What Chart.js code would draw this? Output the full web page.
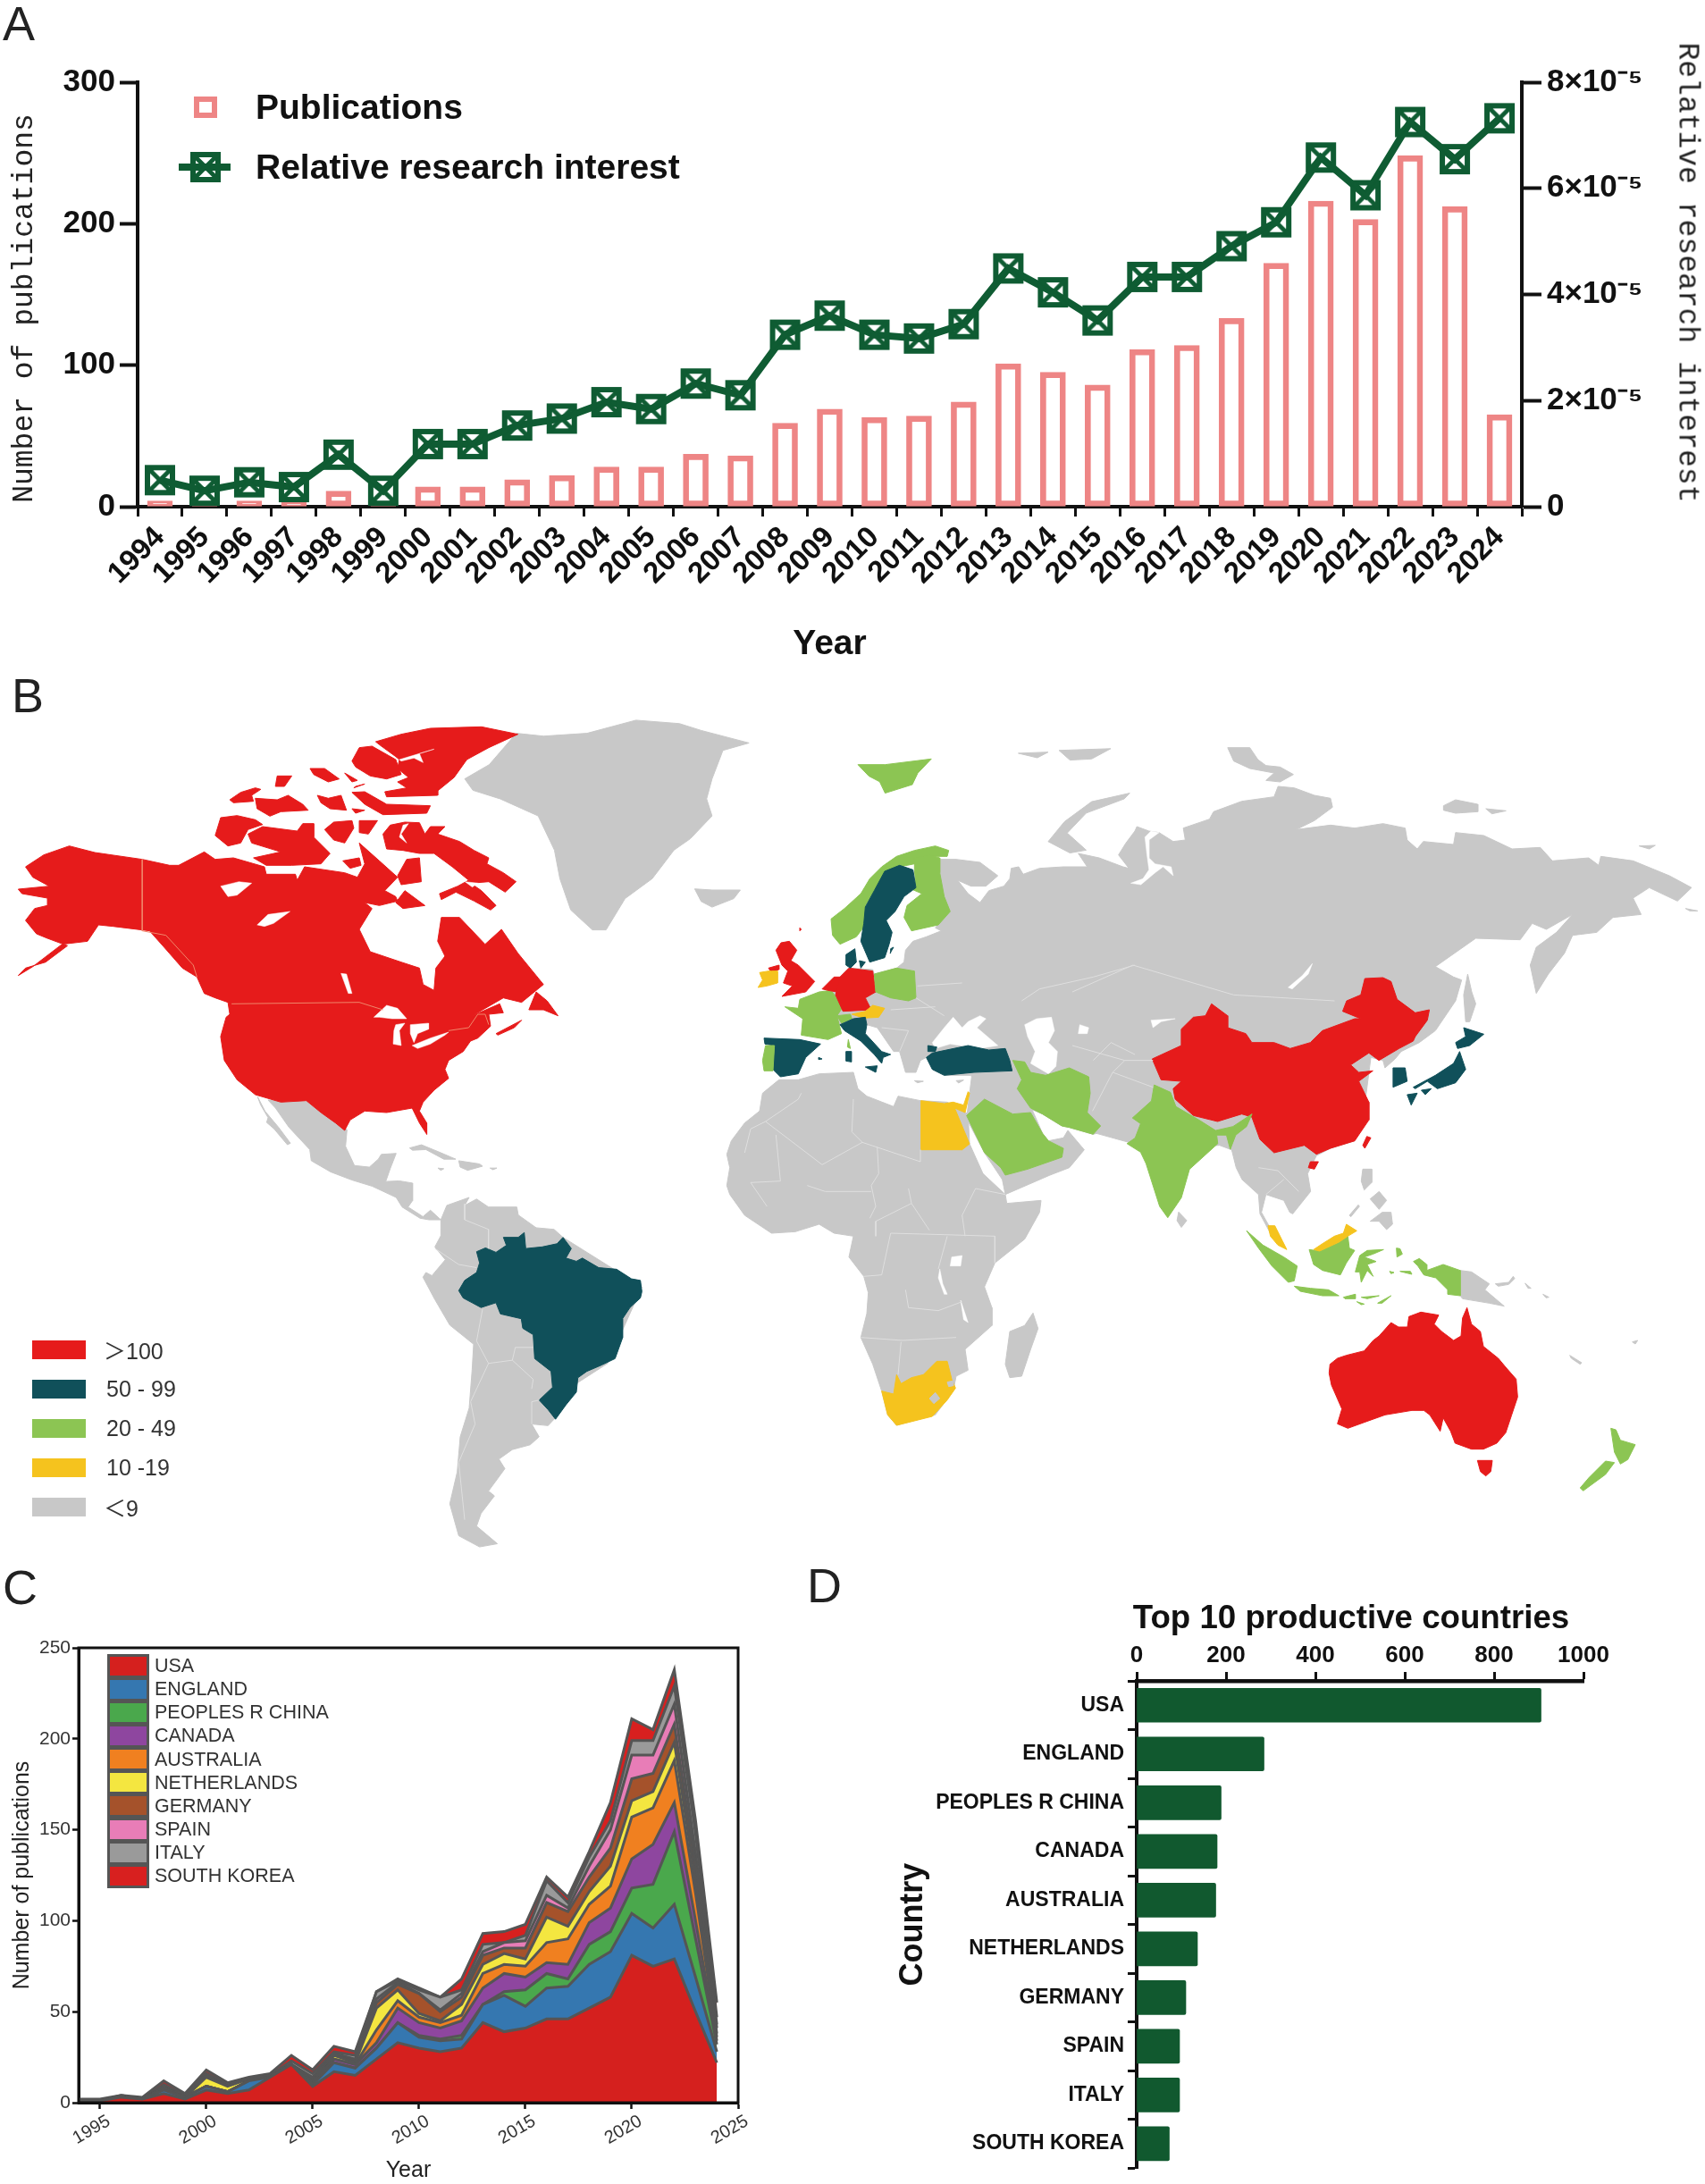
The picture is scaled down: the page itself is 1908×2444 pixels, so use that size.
<!DOCTYPE html>
<html><head><meta charset="utf-8">
<style>
html,body{margin:0;padding:0;background:#fff;width:1908px;height:2444px;overflow:hidden;font-family:"Liberation Sans",Arial,sans-serif}
canvas{position:absolute;display:block}
.t{position:absolute;white-space:pre;line-height:1}
</style>
<script src="https://cdn.jsdelivr.net/npm/chart.js@4"></script>
</head><body>
<canvas id="mapChart" width="1908" height="1000" style="left:0;top:760px"></canvas>
<canvas id="chartA" width="1908" height="745" style="left:0;top:0"></canvas>
<canvas id="chartC" width="860" height="694" style="left:0;top:1750px"></canvas>
<canvas id="chartD" width="1008" height="694" style="left:900px;top:1750px"></canvas>
<script>
// ---------- Panel A ----------
const yearsA=[1994,1995,1996,1997,1998,1999,2000,2001,2002,2003,2004,2005,2006,2007,2008,2009,2010,2011,2012,2013,2014,2015,2016,2017,2018,2019,2020,2021,2022,2023,2024];
const publications=[4,2,4,3,11,2,14,14,19,22,28,28,37,36,59,69,63,64,74,101,95,86,111,114,133,172,216,203,248,212,65];
const relativeInterest=[0.50,0.30,0.46,0.37,0.98,0.30,1.18,1.18,1.53,1.66,1.97,1.84,2.32,2.10,3.24,3.60,3.24,3.17,3.44,4.49,4.04,3.51,4.33,4.33,4.91,5.36,6.58,5.87,7.25,6.55,7.32];
// ---------- Panel C ----------
const yearsC=yearsA;
const stackUSA=[1,1,3,2,5,2,7,5,7,14,21,9,17,15,24,33,30,28,30,44,39,41,46,46,52,58,81,75,79,50,22];
const stackEngland=[0,0,0,0,2,1,2,1,5,0,0,1,5,4,6,11,6,6,5,10,20,12,17,18,24,25,23,21,30,19,6];
const stackChina=[0,0,0,0,0,0,0,0,0,0,0,0,0,0,0,0,1,1,2,0,2,9,8,4,11,11,14,24,40,21,4];
const stackCanada=[0,0,0,0,1,0,0,0,0,0,0,1,2,2,3,8,7,6,8,9,10,7,6,8,12,13,16,22,16,10,2];
const stackAustralia=[0,0,0,0,0,0,0,0,0,0,0,0,0,0,7,4,3,3,3,8,5,6,11,14,10,12,23,20,23,15,2];
const stackNetherlands=[0,0,0,0,0,0,5,3,1,0,0,1,2,1,12,6,2,1,6,5,6,4,14,7,7,11,9,9,10,7,2];
const stackGermany=[0,0,0,0,0,0,0,0,0,0,0,1,1,1,3,3,11,5,4,5,3,6,8,8,8,10,12,10,10,8,3];
const stackSpain=[0,0,0,0,1,0,1,0,0,0,0,1,0,1,2,1,0,1,2,2,3,4,4,2,6,10,13,10,11,7,2];
const stackItaly=[0,0,1,0,1,1,1,1,0,1,2,2,1,2,4,1,2,7,2,4,0,3,8,3,5,5,8,8,10,11,4];
const stackKorea=[1,1,0,1,2,1,2,1,1,1,3,2,3,2,0,1,1,0,6,6,6,6,2,3,3,10,12,6,9,7,8];
const countriesC=["USA","ENGLAND","PEOPLES R CHINA","CANADA","AUSTRALIA","NETHERLANDS","GERMANY","SPAIN","ITALY","SOUTH KOREA"];
const colorsC=["#D5201E","#3577B0","#4AA84C","#8E469F","#F08020","#F4E640","#A5522B","#E87DB7","#9A9A9A","#D8201F"];
const seriesC=[stackUSA,stackEngland,stackChina,stackCanada,stackAustralia,stackNetherlands,stackGermany,stackSpain,stackItaly,stackKorea];
const tickYearsC=[1995,2000,2005,2010,2015,2020,2025];
// ---------- Panel D ----------
const countriesD=countriesC;
const totalsD=[905,285,189,180,177,136,110,96,96,73];
// ---------- Panel B (map outlines, in picture-crop units) ----------
const T5=[0,760,1.644,1.568],T6=[954,760,1.644,1.568],T7=[0,800,2.45,3],T8=[280,1190,3,2.8],T9=[830,920,3,3],T10=[800,1180,3,3],T11=[1200,820,2.215,3],T12=[1380,1300,3,3];
const RED="#E61B1B",TEAL="#10505A",GRN="#8CC553",YEL="#F5C31E",GRY="#C8C8C8",WHT="#FFFFFF";
const greenland=[950,95,1000,100,1080,95,1170,72,1250,78,1290,90,1378,112,1330,125,1310,175,1300,210,1310,240,1270,280,1240,300,1200,350,1150,385,1115,440,1090,440,1050,405,1030,350,1020,300,990,240,920,210,870,195,855,175,900,150];
const iceland=[1278,368,1310,370,1362,370,1350,385,1310,400,1290,390];
const mexico=[60,115,90,115,190,118,240,155,270,155,325,208,320,260,350,320,400,325,430,300,440,285,490,282,470,330,455,370,500,368,545,375,545,430,530,450,580,480,605,460,640,490,600,490,570,485,510,450,490,420,410,385,340,365,270,340,205,305,200,270,130,200,85,140];
const baja=[25,105,50,150,95,200,135,250,125,255,80,205,55,185,60,170,35,130];
const cuba=[535,265,575,255,640,280,690,300,650,300,590,270,545,272];
const hispaniola=[700,305,770,315,780,322,730,335,705,325];
const jamaica=[630,328,650,330,640,335];
const puerto=[805,328,828,328,815,333];
const southAm=[640,490,660,445,735,420,720,445,760,425,800,450,895,450,900,475,960,515,1020,520,1050,545,1315,700,1200,940,1100,1000,1020,1115,1000,1135,945,1130,970,1170,940,1195,880,1210,835,1240,855,1270,800,1340,820,1355,775,1410,760,1450,830,1505,770,1515,700,1480,670,1380,695,1280,705,1170,735,1080,745,960,750,880,670,820,620,740,580,670,590,655,610,665,655,615,620,575,640,540];
const brazil=[700,712,720,680,760,655,770,625,760,590,790,578,825,592,860,570,850,545,900,545,920,530,925,580,980,575,1030,565,1050,545,1078,580,1060,610,1095,620,1115,610,1170,640,1230,645,1280,675,1310,680,1315,715,1310,735,1275,765,1250,800,1250,860,1225,925,1180,945,1130,965,1100,985,1095,1030,1060,1070,1025,1115,1000,1085,970,1055,1015,1015,1010,965,955,925,950,850,915,830,910,800,840,785,825,750,775,765,745,750,715,735];
const africa=[40,335,55,290,100,230,150,190,160,130,215,85,280,85,350,65,465,60,480,115,510,140,600,175,615,140,690,155,780,160,850,200,855,300,900,400,975,470,980,500,1095,490,1090,530,1040,620,940,700,905,780,930,850,930,910,840,990,850,1060,810,1080,800,1130,740,1210,610,1245,580,1210,560,1130,530,1040,490,950,510,870,515,800,500,745,450,680,465,610,400,600,350,570,270,595,190,600,100,540,50,470,40,440,50,380];
const madagascar=[1068,868,1085,920,1060,990,1030,1080,990,1085,975,1040,990,930,1040,910];
const egypt=[692,155,770,165,800,160,835,170,850,125,855,130,840,195,805,180,855,300,830,320,692,320];
const southAfrica=[610,1075,625,1105,660,1085,700,1075,745,1030,780,1030,795,1090,808,1120,780,1160,730,1215,610,1245,580,1210,560,1130,600,1140];
const lesotho=[720,1155,740,1135,755,1155,735,1172];
const swaziland=[780,1100,800,1095,800,1112,785,1115];
const lakeVictoria=[795,680,830,675,825,710,790,710];
const lakeTanganyika=[755,720,765,770,780,805,770,805,750,750];
const lakeMalawi=[825,825,850,900,835,890];
const eurasiaNW=[445,510,520,490,545,470,550,430,575,400,620,385,670,365,650,355,690,300,680,250,665,200,665,125,720,125,800,135,860,180,820,215,770,215,725,195,760,240,800,270,830,230,880,215,900,190,905,155,930,150,945,175,1000,155,1080,150,1160,150,1130,105,1200,120,1280,150,1300,155,1265,110,1290,70,1320,30];
const eurasiaN=[160,315,190,330,215,335,250,365,280,360,275,320,340,290,350,265,420,230,500,215,510,180,550,185,600,210,640,220,645,250,600,295,555,325,640,310,700,320,770,305,825,320,830,360,855,390,870,365,945,375,950,335,1020,345,1090,390,1160,385,1190,430,1280,420,1305,445,1310,415,1390,430,1480,480,1535,520,1500,565,1430,520,1390,555,1410,610,1340,620,1300,670,1240,680,1220,740,1180,810,1150,875,1135,780,1150,720,1200,670,1240,610,1175,660,1140,640,1110,695,1000,690,900,785,945,820,965,830,950,900,900,1000,860,1040,815,1070,800,1095,775,1125,770,1100,740,1090,720,1300,700,1370,640,1395,605,1420];
const indochina=[250,40,260,100,200,175,190,170,170,130,110,110,95,170,120,215,130,250,90,175,85,110,30,60,10,20];
const bengal=[395,1400,365,1385,300,1390,200,1400,140,1375,60,1345];
const eurasiaS=[1270,268,1190,245,1165,240,1100,200,1065,185,1100,265,1120,290,1170,280,1185,255,1240,320,1190,380,1125,405,975,470,965,420,905,330,845,215,855,130,862,75];
const eurasiaSW=[770,850,680,850,640,830,620,790,600,800,585,840,550,840,530,770,510,770,455,690,420,680,415,655,330,680,250,700,200,640,280,580,330,520,360,490,440,495];
const novayaZemlya=[510,200,440,215,390,250,360,285,400,305,430,300,395,270,430,235,500,210];
const severnaya=[385,50,440,50,460,90,480,110,515,115,548,140,515,165,480,160,500,135,440,120,400,95];
const siberianIs=[920,245,950,225,1005,240,1005,265,950,270,920,260];
const siberianIs2=[1025,255,1075,262,1040,272];
const wrangel=[1405,380,1445,378,1430,390];
const chukchiTip=[1520,590,1550,598,1530,598];
const sakhalin=[980,810,990,870,1000,910,985,970,975,970,970,880];
const franzJosef=[305,130,360,128,340,138];
const franzJosef2=[380,125,475,122,440,140,400,142];
const sriLanka=[600,935,615,950,605,962,597,950];
const cyprus=[720,868,745,866,728,876];
const crete=[580,868,610,870,590,875];
const blackSea=[640,740,680,690,710,655,740,690,760,670,800,650,820,660,790,690,860,750,800,760,700,745,650,760];
const caspian=[950,680,990,660,1040,655,1050,700,1030,740,1060,770,1055,820,1030,845,970,810,985,770,960,720];
const aral=[1135,680,1165,690,1160,710,1130,710];
const baikal=[595,775,585,810,545,860,535,855,570,815];
const balkhash=[195,965,255,960,220,970,200,990];
const obGulf=[215,335,190,360,190,420,205,440,245,450,250,480,225,450,205,470,170,510,145,505,175,490,190,460,185,410,180,350,195,330];
const china=[198,1095,270,1050,270,995,300,955,330,950,345,910,385,950,385,990,430,1010,445,1040,500,1040,540,1060,590,1040,620,1000,700,960,715,960,670,935,680,900,715,880,725,825,770,822,790,835,805,895,850,940,885,930,880,965,850,1020,845,1035,810,1060,760,1100,735,1075,690,1115,710,1140,745,1135,710,1170,735,1240,735,1300,700,1370,640,1395,605,1415,575,1385,500,1410,465,1365,445,1290,420,1280,360,1305,300,1285,255,1230,250,1195,270,1170,220,1165];
const hainan=[590,1440,610,1440,600,1465,585,1460];
const taiwan=[730,1355,740,1360,725,1395,720,1385];
const india=[555,712,585,725,595,750,640,775,668,792,700,785,735,763,725,785,705,800,695,825,688,800,670,800,672,815,620,860,605,910,580,945,565,925,540,850,530,830,505,815,520,805,530,780,515,770,550,740];
const iran=[1000,20,1040,25,1060,60,1110,70,1190,45,1255,75,1260,130,1250,195,1295,240,1270,268,1190,245,1165,240,1100,200,1060,180,1015,115,1030,85];
const anatolia=[640,775,760,750,830,765,885,760,900,800,908,835,780,840,680,850,640,830,620,790];
const thrace=[625,750,655,755,650,770,625,770];
const saudi=[845,205,905,150,1000,200,1060,195,1100,265,1120,290,1170,315,1165,345,1050,385,975,405,960,380,905,330];
const spain=[75,725,195,730,265,745,215,790,190,845,130,855,105,830,110,750,78,745];
const portugal=[80,750,110,750,105,835,75,835,70,800];
const france=[145,620,190,625,195,595,260,570,300,565,340,620,320,650,335,710,290,730,200,715,205,660];
const netherlands=[270,560,310,520,330,520,320,570,290,565];
const germany=[360,490,440,500,450,570,415,590,435,630,340,635,315,580,330,520];
const poland=[445,510,520,490,580,500,585,590,560,600,500,590,450,570];
const austria=[370,645,415,635,440,615,480,625,460,655,410,658];
const switzerland=[320,650,365,645,370,660,335,675];
const italy=[330,680,375,660,415,655,420,680,415,710,470,770,500,780,475,790,470,810,445,780,400,735,345,700];
const sicily=[415,822,455,818,450,840];
const sardinia=[350,770,368,770,368,805,350,802];
const corsica=[358,730,365,760,355,755];
const balearic=[258,790,270,795,258,797];
const britain=[132,405,160,400,185,430,165,465,190,480,245,535,215,570,135,585,170,550,140,540,155,500,135,480,115,430];
const nIreland=[90,490,125,480,125,495,100,505];
const shetland=[195,355,200,360,195,365];
const ireland=[60,505,90,500,100,500,120,500,120,540,85,550,55,555,70,530];
const jutland=[350,445,380,425,385,470,365,490,350,480];
const zealand=[395,465,415,470,400,490];
const norway=[300,325,345,290,400,240,430,190,470,150,520,115,580,95,650,80,695,95,690,115,620,115,580,140,530,150,480,170,440,240,415,280,415,345,385,385,330,410,305,380];
const sweden=[415,285,445,230,480,165,530,145,575,160,585,220,545,250,515,300,485,330,505,370,495,410,480,455,430,470,400,400,410,340];
const gotland=[500,425,510,420,498,440];
const finland=[580,120,630,110,665,120,665,170,680,250,700,300,660,345,570,365,545,320,555,280,605,240,570,225,585,215,580,160];
const svalbard=[10,150,60,150,145,140,120,165,110,185,60,200,50,180,30,170];
const hokkaido=[970,990,1020,1012,985,1050,955,1060,950,1040,975,1020];
const honshu=[960,1070,975,1130,950,1175,905,1195,880,1170,850,1195,845,1190,900,1150,945,1110];
const shikoku=[865,1200,890,1195,875,1215];
const kyushu=[830,1215,855,1210,840,1250];
const southKorea=[795,1125,825,1125,830,1170,795,1190];
const sumatra=[45,232,100,280,170,320,215,350,205,400,185,405,130,350,85,290];
const java=[205,418,260,425,320,430,355,450,300,450,225,435];
const lesser1=[370,455,410,445,410,460,375,460];
const lesser2=[430,455,490,450,450,460];
const lesser3=[415,470,440,478,430,480];
const timor=[485,475,515,458,530,450,500,475];
const kalimantan=[255,295,290,300,355,270,385,250,390,290,408,298,380,340,360,380,300,365,270,345];
const sarawak=[270,295,300,275,340,250,370,240,380,210,415,232,385,250,355,270,290,300];
const malaya=[117,215,140,215,165,265,180,295,150,280,125,250];
const sulawesi=[425,315,450,298,505,295,470,310,440,320,480,335,450,345,470,385,450,365,430,405,425,370,410,370];
const halmahera=[548,290,560,292,568,310,550,320];
const seram=[560,368,595,368,600,378,575,372];
const buru=[525,368,540,372,530,376];
const papua=[605,335,625,325,650,345,650,365,705,345,762,365,762,450,720,445,720,430,680,390,640,380,620,350];
const png=[762,365,800,370,860,410,845,430,910,485,860,475,770,460,762,450];
const newBritain=[880,410,925,405,940,385,945,392,925,412,890,418];
const solomon1=[980,408,1000,425,990,425];
const solomon2=[1040,445,1060,455,1050,457];
const caledonia=[1130,650,1170,675,1165,680,1135,660];
const vanuatu=[1340,605,1358,600,1350,612];
const luzon=[435,25,465,25,465,70,440,95,430,65];
const visayas=[460,125,490,100,515,130,490,160];
const mindanao=[460,200,500,170,530,170,535,210,515,228,490,200];
const palawan=[390,180,420,145,424,150,395,185];
const australia=[325,680,350,660,380,650,440,635,470,600,490,585,530,540,555,555,585,555,590,520,630,505,690,515,675,545,700,570,740,600,765,585,770,525,785,490,800,545,830,570,840,620,890,660,915,690,950,730,955,790,935,850,915,910,885,945,840,965,800,965,745,945,730,905,705,860,695,905,660,850,640,835,600,835,510,850,440,875,385,895,350,880,365,830,330,750,322,710];
const tasmania=[820,1003,870,1003,865,1040,848,1055,830,1040];
const nzNorth=[1268,895,1285,900,1300,935,1350,950,1325,1000,1300,1015,1280,975];
const nzSouth=[1280,1010,1250,1050,1175,1105,1165,1095,1195,1060,1250,1005];
const northAmerica=[70,510,120,470,190,440,260,462,390,485,465,505,490,505,560,460,590,485,640,480,725,510,730,535,810,535,815,555,835,510,945,530,980,545,1000,500,985,430,1040,490,1090,545,1055,590,1085,610,1090,625,1040,640,1000,630,1020,650,985,720,1015,795,1100,830,1150,850,1160,905,1190,925,1195,850,1220,810,1200,760,1210,680,1260,680,1330,770,1375,720,1420,800,1490,905,1430,965,1380,950,1295,1010,1370,970,1380,1000,1340,1005,1345,1045,1310,1085,1290,1095,1270,1130,1230,1160,1220,1190,1230,1220,1190,1260,1160,1300,1150,1330,1170,1370,1170,1408,1150,1370,1130,1320,1060,1335,1000,1330,960,1360,945,1395,920,1370,880,1335,840,1295,770,1300,700,1275,650,1225,615,1160,605,1080,620,1015,630,1005,625,965,590,950,560,935,540,880,500,850,450,780,410,725,310,710,270,705,240,760,170,770,90,845,50,875,70,850,125,830,185,775,130,750,100,735,70,690,95,650,130,640,130,615,60,600,50,585,135,575,90,545];
const newfoundland=[1450,990,1470,930,1500,960,1530,1010,1490,990];
const novaScotia=[1360,1070,1430,1025,1410,1050,1365,1075];
const baffin=[1050,400,1070,370,1110,360,1150,362,1165,400,1180,375,1220,375,1200,400,1260,425,1300,455,1340,480,1335,500,1380,530,1415,560,1385,595,1340,560,1290,565,1320,590,1360,640,1345,655,1300,625,1250,595,1210,620,1205,600,1255,575,1285,555,1240,510,1190,465,1150,465,1105,455,1060,450];
const melvillePen=[1115,485,1150,480,1155,560,1100,570,1090,540];
const southampton=[1085,630,1110,590,1165,640,1105,650];
const victoriaIs=[680,400,720,375,815,390,830,365,860,365,860,410,905,465,880,500,800,505,730,505,695,480,770,460,690,430];
const banks=[590,405,605,345,650,338,700,352,720,368,680,385,660,430,625,440];
const somerset=[985,355,1035,355,1010,400,985,395];
const princeWales=[890,385,915,360,965,355,970,380,945,430,915,420];
const kingWilliam=[940,490,985,480,990,505,960,515];
const melvilleIs=[630,285,660,260,700,245,715,250,690,270,695,290,640,295];
const bathurst=[700,280,760,285,790,270,830,300,845,320,770,325,740,340,705,315];
const cornwallis=[870,270,900,280,935,270,950,320,905,315,880,295];
const devon=[965,260,1000,258,1060,300,1180,305,1170,330,1050,335,1000,300];
const smallArctic1=[965,315,1000,320,975,330];
const ellesmere=[1030,90,1100,65,1180,45,1320,40,1420,65,1340,110,1280,150,1245,210,1200,255,1200,270,1060,275,1055,258,1115,245,1090,225,1120,210,1090,180,1095,150,1085,140,1040,100];
const axelHeiberg=[965,155,985,110,1020,105,1085,150,1100,200,1060,215,1015,205,975,175];
const amund=[850,180,890,180,930,215,900,225,860,200];
const smallArctic2=[945,195,980,220,965,225];
const smallArctic3=[760,205,800,205,780,240,755,240];
const smallArctic4=[975,240,1000,232,970,245];
const ellesmereFiord=[1095,150,1190,115,1150,130,1160,160,1135,145,1100,155];
const cumberland=[1105,370,1120,365,1100,400,1115,430,1095,410];
const foxeIs=[1210,525,1240,530,1225,545];
const baffinIs2=[1275,560,1310,565,1295,578];
const lakeSuperior=[1025,1015,1060,975,1090,985,1115,1020,1075,1020,1040,1015];
const lakeMichigan=[1085,1040,1110,1035,1095,1060,1100,1110,1078,1105,1080,1060];
const lakeHuron=[1125,1040,1175,1035,1175,1055,1145,1070,1135,1100,1125,1070];
const lakeErieOntario=[1130,1110,1180,1085,1230,1065,1220,1075,1180,1105,1145,1120];
const lakeWinnipeg=[935,868,950,870,965,935,955,935];
const greatBear=[605,575,655,560,690,565,650,605,625,610];
const greatSlave=[705,705,735,670,795,660,750,700,725,710];
const mapLayers=[
 [GRY,[[T5,greenland]]],[GRY,[[T5,iceland]]],[GRY,[[T8,southAm]]],[GRY,[[T8,mexico]]],[GRY,[[T8,baja]]],[GRY,[[T8,cuba]]],[GRY,[[T8,hispaniola]]],[GRY,[[T8,jamaica]]],[GRY,[[T8,puerto]]],
 [GRY,[[T10,africa]]],[GRY,[[T10,madagascar]]],
 [GRY,[[T9,eurasiaNW],[T11,eurasiaN],[T12,indochina],[T11,bengal],[T10,eurasiaS],[T9,eurasiaSW]]],
 [GRY,[[T6,novayaZemlya]]],[GRY,[[T11,severnaya]]],[GRY,[[T11,siberianIs]]],[GRY,[[T11,siberianIs2]]],[GRY,[[T11,wrangel]]],[GRY,[[T11,chukchiTip]]],[GRY,[[T11,sakhalin]]],[GRY,[[T6,franzJosef]]],[GRY,[[T6,franzJosef2]]],[GRY,[[T6,sriLanka]]],[GRY,[[T9,cyprus]]],[GRY,[[T9,crete]]],
 [GRY,[[T12,png]]],[GRY,[[T12,newBritain]]],[GRY,[[T12,solomon1]]],[GRY,[[T12,solomon2]]],[GRY,[[T12,caledonia]]],[GRY,[[T12,vanuatu]]],[GRY,[[T12,luzon]]],[GRY,[[T12,visayas]]],[GRY,[[T12,mindanao]]],[GRY,[[T12,palawan]]],
 [WHT,[[T9,blackSea]]],[WHT,[[T9,caspian]]],[WHT,[[T9,aral]]],[WHT,[[T11,baikal]]],[WHT,[[T11,balkhash]]],[WHT,[[T11,obGulf]]],[WHT,[[T10,lakeVictoria]]],[WHT,[[T10,lakeTanganyika]]],[WHT,[[T10,lakeMalawi]]],
 [TEAL,[[T8,brazil]]],[YEL,[[T10,egypt]]],[YEL,[[T10,southAfrica]]],[GRY,[[T10,lesotho]]],[GRY,[[T10,swaziland]]],
 [RED,[[T11,china]]],[RED,[[T11,hainan]]],[RED,[[T11,taiwan]]],[GRN,[[T6,india]]],[GRN,[[T10,iran]]],[TEAL,[[T9,anatolia]]],[TEAL,[[T9,thrace]]],[GRN,[[T10,saudi]]],
 [TEAL,[[T9,spain]]],[GRN,[[T9,portugal]]],[GRN,[[T9,france]]],[RED,[[T9,netherlands]]],[RED,[[T9,germany]]],[GRN,[[T9,poland]]],[YEL,[[T9,austria]]],[GRN,[[T9,switzerland]]],[TEAL,[[T9,italy]]],[TEAL,[[T9,sicily]]],[TEAL,[[T9,sardinia]]],[GRN,[[T9,corsica]]],[TEAL,[[T9,balearic]]],
 [RED,[[T9,britain]]],[RED,[[T9,nIreland]]],[RED,[[T9,shetland]]],[YEL,[[T9,ireland]]],[TEAL,[[T9,jutland]]],[TEAL,[[T9,zealand]]],[GRN,[[T9,norway]]],[GRN,[[T9,finland]]],[TEAL,[[T9,sweden]]],[TEAL,[[T9,gotland]]],[GRN,[[T6,svalbard]]],
 [TEAL,[[T11,hokkaido]]],[TEAL,[[T11,honshu]]],[TEAL,[[T11,shikoku]]],[TEAL,[[T11,kyushu]]],[TEAL,[[T11,southKorea]]],
 [GRN,[[T12,sumatra]]],[GRN,[[T12,java]]],[GRN,[[T12,lesser1]]],[GRN,[[T12,lesser2]]],[GRN,[[T12,lesser3]]],[GRN,[[T12,timor]]],[GRN,[[T12,kalimantan]]],[YEL,[[T12,sarawak]]],[YEL,[[T12,malaya]]],[GRN,[[T12,sulawesi]]],[GRN,[[T12,halmahera]]],[GRN,[[T12,seram]]],[GRN,[[T12,buru]]],[GRN,[[T12,papua]]],
 [RED,[[T12,australia]]],[RED,[[T12,tasmania]]],[GRN,[[T12,nzNorth]]],[GRN,[[T12,nzSouth]]],
 [RED,[[T7,northAmerica]]],[RED,[[T7,newfoundland]]],[RED,[[T7,novaScotia]]],[RED,[[T7,baffin]]],[RED,[[T7,melvillePen]]],[RED,[[T7,southampton]]],[RED,[[T7,victoriaIs]]],[RED,[[T7,banks]]],[RED,[[T7,somerset]]],[RED,[[T7,princeWales]]],[RED,[[T7,kingWilliam]]],[RED,[[T7,melvilleIs]]],[RED,[[T7,bathurst]]],[RED,[[T7,cornwallis]]],[RED,[[T7,devon]]],[RED,[[T7,smallArctic1]]],[RED,[[T7,ellesmere]]],[RED,[[T7,axelHeiberg]]],[RED,[[T7,amund]]],[RED,[[T7,smallArctic2]]],[RED,[[T7,smallArctic3]]],[RED,[[T7,smallArctic4]]],
 [WHT,[[T7,ellesmereFiord]]],[WHT,[[T7,cumberland]]],[WHT,[[T7,foxeIs]]],[WHT,[[T7,baffinIs2]]],[WHT,[[T7,lakeSuperior]]],[WHT,[[T7,lakeMichigan]]],[WHT,[[T7,lakeHuron]]],[WHT,[[T7,lakeErieOntario]]],[WHT,[[T7,lakeWinnipeg]]],[WHT,[[T7,greatBear]]],[WHT,[[T7,greatSlave]]]
];
const borderOrange="#F0866A",borderLight="#DFDFDF";
const borderLines=[
 [borderOrange,T7,[390,485,390,725,455,740,530,840,540,880]],
 [borderOrange,T7,[635,970,985,965,1050,990]],
 [borderOrange,T7,[1230,1060,1285,1050,1310,1005,1330,1005,1340,1040]],
 [borderLight,T10,[170,225,280,150,290,130]],[borderLight,T10,[170,225,360,370,495,295,460,260,465,150]],[borderLight,T10,[495,295,690,360,690,320]],[borderLight,T10,[545,310,550,400,525,440,540,510,520,550]],[borderLight,T10,[100,330,120,250,170,225]],[borderLight,T10,[205,270,220,425,120,430,175,510]],[borderLight,T10,[310,440,370,460,525,460]],[borderLight,T10,[650,450,660,500,720,590]],[borderLight,T10,[660,500,540,560,540,610]],[borderLight,T10,[590,600,770,605,940,610]],[borderLight,T10,[590,600,560,740,500,745]],[borderLight,T10,[840,610,830,540,875,450,975,470]],[borderLight,T10,[780,610,750,720]],[borderLight,T10,[490,950,630,960,810,950]],[borderLight,T10,[625,965,615,1075]],[borderLight,T10,[640,790,650,850,750,860,830,830]],[borderLight,T10,[940,610,940,700]],
 [borderLight,T8,[720,440,720,490,800,520,800,580]],[borderLight,T8,[620,580,700,630,760,640]],[borderLight,T8,[780,770,760,870,800,940]],[borderLight,T8,[800,940,880,930,950,990,945,1020]],[borderLight,T8,[800,940,740,1060,755,1130,700,1250,720,1430]],[borderLight,T8,[880,930,890,890,950,890]],[borderLight,T8,[945,1130,945,1060,970,1055]],
 [borderLight,T9,[590,550,740,540]],[borderLight,T9,[585,590,680,650]],[borderLight,T9,[940,600,1000,560,1180,520,1320,480]],[borderLight,T9,[500,630,650,620]],[borderLight,T9,[470,690,560,700,530,770]],[borderLight,T9,[1180,800,1240,740,1320,780]],
 [borderLight,T11,[0,870,150,780,400,880,650,900]],[borderLight,T11,[130,1100,200,1100]],[borderLight,T11,[0,1050,130,1100,100,1140,50,1270]],[borderLight,T11,[100,1140,200,1190]],
 [borderLight,T12,[85,20,150,30,220,100]],[borderLight,T12,[110,110,170,60]]
];
const legendB=[[">","＞100",RED],["","50 - 99",TEAL],["","20 - 49",GRN],["","10 -19",YEL],["<","＜9",GRY]];

// ---------- helpers ----------
Chart.defaults.font.family='"Liberation Sans",Arial,sans-serif';
Chart.defaults.animation=false;
function pts(parts,close){const o=[];parts.forEach(([T,a])=>{for(let i=0;i<a.length;i+=2)o.push({x:T[0]+a[i]/T[2],y:T[1]+a[i+1]/T[3]});});if(close)o.push({...o[0]});return o;}
function addText(s,x,y,css,rot,anchor){const d=document.createElement('div');d.className='t';d.textContent=s;d.style.cssText+=`left:${x}px;top:${y}px;${css};transform:translate(${anchor==='l'?'0':'-50%'},-50%)${rot?` rotate(${rot}deg)`:''};`;document.body.appendChild(d);}
function drawMarker(c,cx,cy,r,col,lw){c.save();c.strokeStyle=col;c.lineWidth=lw;const q=r-lw/2;c.strokeRect(cx-q,cy-q,2*q,2*q);c.lineWidth=lw*0.8;c.beginPath();c.moveTo(cx-q,cy-q);c.lineTo(cx+q,cy+q);c.moveTo(cx+q,cy-q);c.lineTo(cx-q,cy+q);c.stroke();c.restore();}
const GREEN="#0F5C33",PINK="#EE8585";
const mk=document.createElement('canvas');mk.width=mk.height=36;drawMarker(mk.getContext('2d'),18,18,17,GREEN,6);
const frame={id:'frame',afterDatasetsDraw(ch){const {left,top,right,bottom}=ch.chartArea,c=ch.ctx;c.save();c.strokeStyle='#111';c.lineWidth=3;c.strokeRect(left,top,right-left,bottom-top);c.restore();}};

// ---------- Map ----------
const mapDatasets=mapLayers.map(([col,parts],i)=>({data:pts(parts,true),borderColor:col,backgroundColor:col,borderWidth:col===WHT?0.5:1,fill:'shape',pointRadius:0,showLine:true,tension:0,order:mapLayers.length-i+borderLines.length}));
borderLines.forEach(([col,T,a],i)=>mapDatasets.push({data:pts([[T,a]],false),borderColor:col,borderWidth:1,fill:false,pointRadius:0,showLine:true,tension:0,order:i}));
new Chart(document.getElementById('mapChart'),{type:'scatter',data:{datasets:mapDatasets},options:{responsive:false,devicePixelRatio:1,layout:{padding:0},plugins:{legend:{display:false},tooltip:{enabled:false}},scales:{x:{type:'linear',display:false,min:0,max:1908},y:{type:'linear',display:false,min:760,max:1760,reverse:true}}}});

// ---------- Chart A ----------
new Chart(document.getElementById('chartA'),{
 data:{labels:yearsA,datasets:[
  {type:'line',label:'Relative research interest',data:relativeInterest,yAxisID:'y1',borderColor:GREEN,borderWidth:8,tension:0,pointStyle:mk,pointRadius:17,clip:false,order:0,fill:false},
  {type:'bar',label:'Publications',data:publications,yAxisID:'y',backgroundColor:'rgba(255,255,255,0)',borderColor:PINK,borderWidth:6,barThickness:28,borderSkipped:false,order:1}
 ]},
 options:{responsive:false,devicePixelRatio:1,layout:{padding:{top:92}},plugins:{legend:{display:false},tooltip:{enabled:false}},
  scales:{
   x:{grid:{drawOnChartArea:false,drawTicks:true,tickLength:11,tickColor:'#111',tickWidth:3},border:{color:'#111',width:4},
      ticks:{color:'#111',font:{size:33,weight:'bold'},minRotation:45,maxRotation:45,autoSkip:false,padding:4},
      title:{display:true,text:'Year',color:'#111',font:{size:39,weight:'bold'},padding:0},afterFit(s){s.height=178;}},
   y:{min:0,max:300,position:'left',grid:{drawOnChartArea:false,tickLength:20,tickColor:'#111',tickWidth:4},border:{color:'#111',width:4},
      ticks:{stepSize:100,color:'#111',font:{size:35,weight:'bold'},padding:5},afterFit(s){s.width=154;}},
   y1:{min:0,max:8,position:'right',grid:{drawOnChartArea:false,tickLength:22,tickColor:'#111',tickWidth:4},border:{color:'#111',width:4},
      ticks:{stepSize:2,color:'#111',font:{size:35,weight:'bold'},padding:6,callback:v=>v?v+'×10⁻⁵':'0'},afterFit(s){s.width=205;}}
  }}});
addText('Number of publications',27,345,'font:33px "Liberation Mono",monospace;color:#222',-90);
addText('Relative research interest',1888,305,'font:33px "Liberation Mono",monospace;color:#222',90);
addText('Publications',286,120,'font:bold 39px "Liberation Sans";color:#111',0,'l');
addText('Relative research interest',286,187,'font:bold 39px "Liberation Sans";color:#111',0,'l');
const sw=document.createElement('div');sw.style.cssText=`position:absolute;left:217px;top:108px;width:26px;height:24px;box-sizing:border-box;border:6px solid ${PINK};`;document.body.appendChild(sw);
const lg=document.createElement('canvas');lg.width=70;lg.height=40;lg.style.cssText='left:197px;top:167px';document.body.appendChild(lg);
{const c=lg.getContext('2d');c.strokeStyle=GREEN;c.lineWidth=8;c.beginPath();c.moveTo(3,20);c.lineTo(61,20);c.stroke();drawMarker(c,33,20,17,GREEN,6);}

// ---------- Chart C ----------
new Chart(document.getElementById('chartC'),{
 type:'line',
 data:{datasets:countriesC.map((n,i)=>({label:n,data:seriesC[i].map((v,k)=>({x:yearsC[k],y:v})),backgroundColor:colorsC[i],borderColor:'#555',borderWidth:3,pointRadius:0,tension:0,fill:i?'-1':'origin',stack:'a'}))},
 options:{responsive:false,devicePixelRatio:1,layout:{padding:{top:94,right:34}},plugins:{legend:{display:false},tooltip:{enabled:false}},
  scales:{
   x:{type:'linear',min:1994,max:2025,grid:{drawOnChartArea:false,tickLength:7,tickColor:'#111',tickWidth:2.5},border:{color:'#111',width:3},
      afterBuildTicks(s){s.ticks=tickYearsC.map(v=>({value:v}));},
      ticks:{color:'#333',font:{size:20},minRotation:30,maxRotation:30,autoSkip:false,callback:v=>String(v),padding:2,labelOffset:10},
      title:{display:true,text:'Year',color:'#222',font:{size:25},padding:0},afterFit(s){s.height=91;}},
   y:{min:0,max:250,stacked:true,grid:{drawOnChartArea:false,tickLength:7,tickColor:'#111',tickWidth:2.5},border:{color:'#111',width:3},
      ticks:{stepSize:50,color:'#333',font:{size:21},padding:2},
      title:{display:true,text:'Number of publications',color:'#222',font:{size:25},padding:{top:10,bottom:0}},afterFit(s){s.width=88;}}
  }},
 plugins:[frame]});
countriesC.forEach((n,i)=>{const y=1864+i*26.15;const d=document.createElement('div');d.style.cssText=`position:absolute;left:120px;top:${y-13.5}px;width:47px;height:27px;box-sizing:border-box;background:${colorsC[i]};border:3px solid #555;`;document.body.appendChild(d);addText(n,173,y,'font:21.5px "Liberation Sans";color:#333',0,'l');});

// ---------- Chart D ----------
new Chart(document.getElementById('chartD'),{
 type:'bar',
 data:{labels:countriesD,datasets:[{label:'Top 10 productive countries',data:totalsD,backgroundColor:'#11592F',barThickness:38,borderRadius:2}]},
 options:{indexAxis:'y',responsive:false,devicePixelRatio:1,layout:{padding:{right:136,bottom:13}},plugins:{legend:{display:false},tooltip:{enabled:false}},
  scales:{
   x:{position:'top',min:0,max:1000,grid:{drawOnChartArea:false,tickLength:10,tickColor:'#111',tickWidth:3},border:{color:'#111',width:4.5},
      ticks:{stepSize:200,color:'#111',font:{size:26,weight:'bold'},padding:3,callback:v=>String(v)},afterFit(s){s.height=131;}},
   y:{grid:{drawOnChartArea:false,tickLength:10,tickColor:'#111',tickWidth:3},border:{color:'#111',width:4},
      ticks:{color:'#111',font:{size:23,weight:'bold'},padding:4,autoSkip:false},
      title:{display:true,text:'Country',color:'#111',font:{size:36,weight:'bold'},padding:{top:100,bottom:0}},afterFit(s){s.width=372;}}
  }}});
addText('Top 10 productive countries',1512,1810,'font:bold 36.7px "Liberation Sans";color:#111');

// ---------- Map legend & panel letters ----------
const legendY=[1510,1554,1598,1642,1686];
legendB.forEach(([,lab,col],i)=>{const d=document.createElement('div');d.style.cssText=`position:absolute;left:36px;top:${legendY[i]-10.5}px;width:60px;height:21px;background:${col};`;document.body.appendChild(d);addText(lab,i===4?116:(i===0?116:119),legendY[i],'font:25px "Liberation Sans","Noto Sans CJK SC";color:#333',0,'l');});
[['A',3,26],['B',13,778],['C',3,1776],['D',903,1774]].forEach(([s,x,y])=>addText(s,x,y,'font:54px "Liberation Sans";color:#222',0,'l'));
</script>
</body></html>
